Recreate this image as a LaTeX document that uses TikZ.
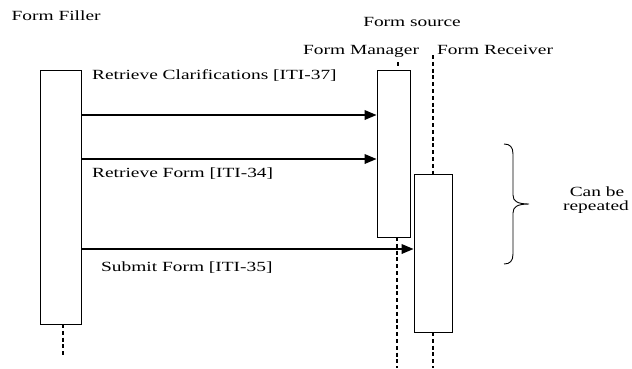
\documentclass[tikz,border=0pt]{standalone}
\usepackage{fontspec}
\usepackage{graphicx}
\setmainfont{Liberation Serif}
\usetikzlibrary{arrows.meta}
\newcommand\sxt[1]{\scalebox{1.385}[1]{#1}}
\tikzset{
  lifebox/.style={draw, line width=0.8pt, fill=white, minimum width=#1, inner sep=0pt},
  lifeline/.style={line width=1.5pt, dash pattern=on 4pt off 2.8pt},
  msg/.style={line width=1.9pt, -{Triangle[length=12pt,width=9.5pt]}},
  lbl/.style={inner sep=0pt, font=\fontsize{14}{14}\selectfont},
  bracestyle/.style={line width=0.9pt}
}
\begin{document}
\begin{tikzpicture}[x=1pt,y=-1pt]
\useasboundingbox (0,0) rectangle (632,368);
% lifelines (dashed)
\coordinate (fd1) at (63,324);
\coordinate (fd2) at (63,356);
\coordinate (mt1) at (398,62);
\coordinate (mt2) at (398,68);
\coordinate (md1) at (397,237);
\coordinate (md2) at (397,368);
\coordinate (rt1) at (433,55);
\coordinate (rt2) at (433,174);
\coordinate (rd1) at (433,332);
\coordinate (rd2) at (433,368);
\draw[lifeline] (fd1) -- (fd2);
\draw[lifeline] (mt1) -- (mt2);
\draw[lifeline] (md1) -- (md2);
\draw[lifeline] (rt1) -- (rt2);
\draw[lifeline] (rd1) -- (rd2);
% activation boxes
\node[lifebox=41pt, minimum height=254pt] (filler) at (60.5,197) {};
\node[lifebox=33pt, minimum height=167pt] (mgr) at (393.5,153.5) {};
\node[lifebox=38pt, minimum height=158pt] (rcv) at (433,253) {};
% message levels
\coordinate (y1) at (0,115);
\coordinate (y2) at (0,159);
\coordinate (y3) at (0,249);
\draw[msg] (filler.east |- y1) -- (mgr.west |- y1);
\draw[msg] (filler.east |- y2) -- (mgr.west |- y2);
\draw[msg] (filler.east |- y3) -- (rcv.west |- y3);
% labels
\node[lbl, anchor=base west] (tfiller) at (11.5,20.3) {\sxt{Form Filler}};
\node[lbl, anchor=base] (tsource) at (412,26.7) {\sxt{Form source}};
\node[lbl, anchor=base west] (tmgr) at (303,54.5) {\sxt{Form Manager}};
\node[lbl, anchor=base west] (trcv) at (437,54.5) {\sxt{Form Receiver}};
\node[lbl, anchor=base west] (tm1) at (92,79) {\sxt{Retrieve Clarifications [ITI-37]}};
\node[lbl, anchor=base west] (tm2) at (92,177) {\sxt{Retrieve Form [ITI-34]}};
\node[lbl, anchor=base west] (tm3) at (101,271) {\sxt{Submit Form [ITI-35]}};
\node[lbl, anchor=base] (tcan) at (597,196) {\sxt{Can be}};
\node[lbl, anchor=base] (trep) at (596,210) {\sxt{repeated}};
% brace
\draw[bracestyle] (504,144) .. controls (510,144) and (513,147) .. (513,154)
  -- (513,195) .. controls (513,201) and (517,204) .. (529,204)
  .. controls (517,204) and (513,207) .. (513,213)
  -- (513,254) .. controls (513,261) and (510,264) .. (504,264);
\end{tikzpicture}
\end{document}
